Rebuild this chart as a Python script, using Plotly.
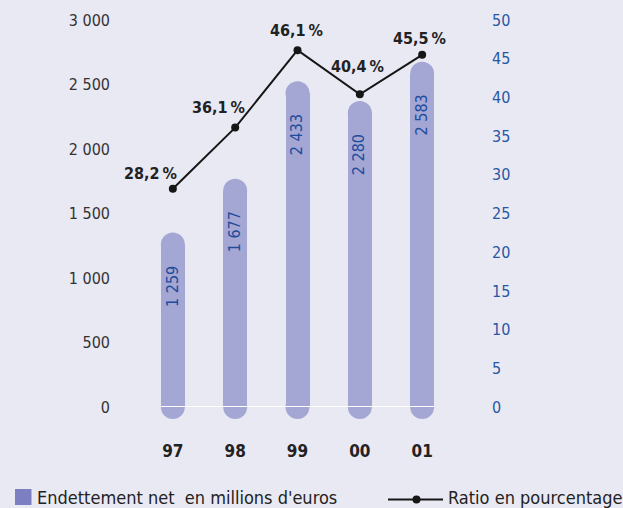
import plotly.graph_objects as go

# Data
years = ["97", "98", "99", "00", "01"]
net_debt = [1259, 1677, 2433, 2280, 2583]          # millions d'euros
ratio_pct = [28.2, 36.1, 46.1, 40.4, 45.5]         # %
left_ticks = [0, 500, 1000, 1500, 2000, 2500, 3000]
right_ticks = [0, 5, 10, 15, 20, 25, 30, 35, 40, 45, 50]

# Styling
BG = "#e9e9f3"
BAR = "#a4a7d4"
BAR_KEY = "#7c80c2"
BLUE = "#2857a4"
LABEL_BLUE = "#1f4c9c"
DARK = "#222222"
LINE = "#161616"
FONT = "DejaVu Sans Condensed, Roboto, sans-serif"

W, H = 623, 508
L, R, T, B = 118, 146, 20, 101
PW, PH = W - L - R, H - T - B
BAR_W = 0.385

xpos = list(range(len(years)))


def fmt_thousands(v):
    return f"{v:,}".replace(",", " ")


def fmt_pct(v):
    return f"{v:.1f}".replace(".", ",") + "\u2009%"


def px(x):
    return (x - L) / PW


def py(y):
    return (H - B - y) / PH


fig = go.Figure()

# Bars (rectangular body)
fig.add_trace(go.Bar(
    x=xpos, y=net_debt, width=BAR_W, marker=dict(color=BAR, line=dict(width=0)),
    yaxis="y", hoverinfo="skip", showlegend=False,
))
# Rounded caps at both ends of each bar
fig.add_trace(go.Scatter(
    x=xpos + xpos, y=net_debt + [0] * len(xpos), mode="markers",
    marker=dict(size=24, color=BAR, line=dict(width=0)),
    yaxis="y", cliponaxis=False, hoverinfo="skip", showlegend=False,
))
# Ratio line
fig.add_trace(go.Scatter(
    x=xpos, y=ratio_pct, mode="lines+markers",
    line=dict(color=LINE, width=2),
    marker=dict(size=8, color=LINE),
    yaxis="y2", cliponaxis=False, hoverinfo="skip", showlegend=False,
))

annotations = []
# Vertical value labels inside bars
for i, v in zip(xpos, net_debt):
    annotations.append(dict(
        x=i, y=v, xref="x", yref="y", text=fmt_thousands(v), textangle=-90,
        showarrow=False, xanchor="center", yanchor="top", yshift=-19, xshift=-1,
        font=dict(family=FONT, size=16, color=LABEL_BLUE),
    ))

# Percentage labels above the line points
pct_shift = [(-22, 4), (-17, 9), (-1, 8), (-2, 16), (-3, 5)]
for i, v, (dx, dy) in zip(xpos, ratio_pct, pct_shift):
    annotations.append(dict(
        x=i, y=v, xref="x", yref="y2", text=f"<b>{fmt_pct(v)}</b>",
        showarrow=False, xanchor="center", yanchor="bottom", xshift=dx, yshift=dy,
        font=dict(family=FONT, size=16, color=DARK),
    ))

# Legend
annotations.append(dict(
    x=px(35), y=py(497.5), xref="paper", yref="paper", xanchor="left", yanchor="middle",
    text="Endettement net\u00a0 en millions d'euros", showarrow=False,
    font=dict(family=FONT, size=18, color=DARK),
))
annotations.append(dict(
    x=px(446), y=py(497.5), xref="paper", yref="paper", xanchor="left", yanchor="middle",
    text="Ratio en pourcentage", showarrow=False,
    font=dict(family=FONT, size=18, color=DARK),
))

shapes = [
    # white baseline across the bars
    dict(type="line", xref="x", yref="y", x0=-BAR_W / 2, x1=len(years) - 1 + BAR_W / 2,
         y0=0, y1=0, line=dict(color="white", width=1.8), layer="above"),
    # legend keys
    dict(type="rect", xref="paper", yref="paper", x0=px(15), x1=px(31.5), y0=py(505), y1=py(489),
         fillcolor=BAR_KEY, line=dict(width=0)),
    dict(type="line", xref="paper", yref="paper", x0=px(388), x1=px(443), y0=py(499.5), y1=py(499.5),
         line=dict(color=LINE, width=1.8)),
    dict(type="circle", xref="paper", yref="paper", x0=px(412.5), x1=px(420.5),
         y0=py(503.5), y1=py(495.5), fillcolor=LINE, line=dict(width=0)),
]

fig.update_layout(
    width=W, height=H,
    margin=dict(l=L, r=R, t=T, b=B, pad=0),
    paper_bgcolor=BG, plot_bgcolor=BG,
    showlegend=False,
    bargap=0,
    xaxis=dict(
        range=[-0.88, 4.88], tickvals=xpos, ticktext=years,
        showgrid=False, zeroline=False, showline=False,
        ticks="", ticklabelstandoff=32,
        tickfont=dict(family=FONT, size=17, color=DARK, weight="bold"),
    ),
    yaxis=dict(
        range=[0, 3000], tickvals=left_ticks, ticktext=[fmt_thousands(v) for v in left_ticks],
        showgrid=False, zeroline=False, showline=False, ticks="", ticklabelstandoff=7,
        tickfont=dict(family=FONT, size=16, color="#333333"),
    ),
    yaxis2=dict(
        range=[0, 50], tickvals=right_ticks, overlaying="y", side="right",
        showgrid=False, zeroline=False, showline=False, ticks="", ticklabelstandoff=14,
        tickfont=dict(family=FONT, size=16, color=BLUE),
    ),
    annotations=annotations,
    shapes=shapes,
)

fig.write_html("out.html")
